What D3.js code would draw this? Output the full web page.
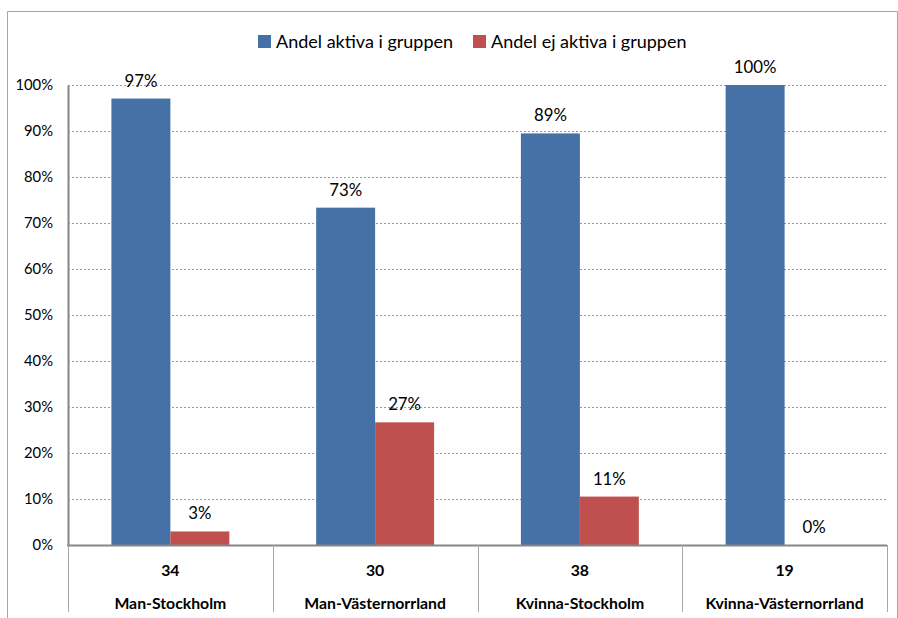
<!DOCTYPE html>
<html>
<head>
<meta charset="utf-8">
<script src="https://cdn.jsdelivr.net/npm/d3@7"></script>
<style>
  html, body { margin: 0; padding: 0; background: #fff; }
  svg { display: block; font-family: Lato, "Open Sans", sans-serif; }
</style>
</head>
<body>
<svg id="chart" width="898" height="618"></svg>
<script>
// Group labels and group sizes
const groups = ["Man-Stockholm", "Man-Västernorrland", "Kvinna-Stockholm", "Kvinna-Västernorrland"];
const counts = [34, 30, 38, 19];
// Share of active / inactive members per group
const activeShare = [33 / 34, 22 / 30, 34 / 38, 19 / 19];
const inactiveShare = [1 / 34, 8 / 30, 4 / 38, 0 / 19];
const seriesNames = ["Andel aktiva i gruppen", "Andel ej aktiva i gruppen"];
const yTicks = [0, 0.1, 0.2, 0.3, 0.4, 0.5, 0.6, 0.7, 0.8, 0.9, 1.0];

const colors = ["#4571A7", "#C0504D"];
const svg = d3.select("#chart");

const plot = { left: 68, right: 887, top: 85, bottom: 545 };

// Outer frame
svg.append("path")
  .attr("d", `M7.5,618 V11.5 H897.5 V618`)
  .attr("fill", "none").attr("stroke", "#a6a6a6").attr("stroke-width", 1);

const x = d3.scaleBand().domain(groups).range([plot.left, plot.right]).padding(0);
const y = d3.scaleLinear().domain([0, 1]).range([plot.bottom, plot.top]);
const barW = x.bandwidth() * 0.288;

// Gridlines
svg.append("g").selectAll("line").data(yTicks.filter(t => t > 0)).join("line")
  .attr("x1", plot.left).attr("x2", plot.right)
  .attr("y1", d => Math.round(y(d)) + 0.5).attr("y2", d => Math.round(y(d)) + 0.5)
  .attr("stroke", "#9a9a9a").attr("stroke-width", 1).attr("stroke-dasharray", "2,2");

// Y axis
const yAxis = d3.axisLeft(y).tickValues(yTicks).tickFormat(d3.format(".0%")).tickSize(0).tickPadding(15);
const ya = svg.append("g").attr("transform", `translate(${plot.left},0)`).call(yAxis);
ya.select(".domain").attr("stroke", "#868686").attr("stroke-width", 2);
ya.selectAll("text").attr("font-size", 14.8).attr("fill", "#000").attr("font-family", "Lato, sans-serif");

// Bars
const data = groups.map((g, i) => ({ g, vals: [activeShare[i], inactiveShare[i]] }));
const gBars = svg.append("g");
data.forEach(d => {
  const cx = x(d.g) + x.bandwidth() / 2;
  d.vals.forEach((v, s) => {
    const bx = cx - barW + s * barW;
    gBars.append("rect")
      .attr("x", bx).attr("width", barW)
      .attr("y", y(v)).attr("height", plot.bottom - y(v))
      .attr("fill", colors[s]);
    gBars.append("text")
      .attr("x", bx + barW / 2).attr("y", y(v) - 12)
      .attr("text-anchor", "middle").attr("font-size", 16.8).attr("fill", "#000")
      .text(d3.format(".0%")(v));
  });
});

// Category axis box
const cat = svg.append("g");
cat.append("line").attr("x1", plot.left - 1).attr("x2", plot.right).attr("y1", plot.bottom + 0.5).attr("y2", plot.bottom + 0.5)
  .attr("stroke", "#868686").attr("stroke-width", 2);
cat.selectAll("line.div").data(groups.concat(["end"])).join("line").attr("class", "div")
  .attr("x1", (d, i) => Math.round(i < groups.length ? x(d) : plot.right) + 0.5)
  .attr("x2", (d, i) => Math.round(i < groups.length ? x(d) : plot.right) + 0.5)
  .attr("y1", plot.bottom).attr("y2", 612)
  .attr("stroke", "#a6a6a6").attr("stroke-width", 1);
cat.selectAll("text.count").data(groups).join("text").attr("class", "count")
  .attr("x", d => x(d) + x.bandwidth() / 2).attr("y", 576)
  .attr("text-anchor", "middle").attr("font-size", 15.8).attr("font-weight", "bold")
  .text((d, i) => counts[i]);
cat.selectAll("text.name").data(groups).join("text").attr("class", "name")
  .attr("x", d => x(d) + x.bandwidth() / 2).attr("y", 609)
  .attr("text-anchor", "middle").attr("font-size", 15.8).attr("font-weight", "bold")
  .text(d => d);

// Legend
const legend = svg.append("g");
const legendX = [258, 473];
seriesNames.forEach((name, i) => {
  legend.append("rect").attr("x", legendX[i]).attr("y", 35).attr("width", 13).attr("height", 13).attr("fill", colors[i]);
  legend.append("text").attr("x", legendX[i] + 18).attr("y", 48)
    .attr("font-size", 18).attr("fill", "#000").text(name);
});
</script>
</body>
</html>
